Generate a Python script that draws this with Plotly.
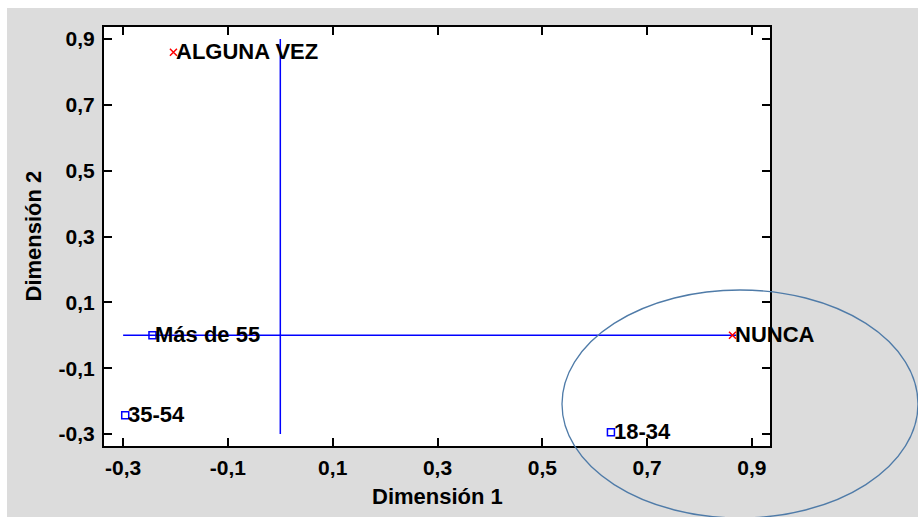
import plotly.graph_objects as go

# Data
resp_labels = ["ALGUNA VEZ", "NUNCA"]
resp_x = [-0.204, 0.863]
resp_y = [0.86, 0.0]

age_labels = ["Más de 55", "35-54", "18-34"]
age_x = [-0.244, -0.296, 0.631]
age_y = [0.0, -0.243, -0.295]

hline_x = [-0.3, 0.87]
hline_y = [0.0, 0.0]
vline_x = [0.0, 0.0]
vline_y = [-0.3, 0.9]

tick_vals = [-0.3, -0.1, 0.1, 0.3, 0.5, 0.7, 0.9]
tick_text = ["-0,3", "-0,1", "0,1", "0,3", "0,5", "0,7", "0,9"]

x_title = "Dimensión 1"
y_title = "Dimensión 2"

W, H = 918, 517
ML, MR, MT, MB = 104, 148, 27, 71
PW, PH = W - ML - MR, H - MT - MB

FONT = "Liberation Sans, Arial"

def px_x(p):
    return (p - ML) / PW

def px_y(p):
    return (H - MB - p) / PH

fig = go.Figure()
fig.add_trace(go.Scatter(x=hline_x, y=hline_y, mode="lines",
                         line=dict(color="#0000ff", width=1.5), hoverinfo="skip"))
fig.add_trace(go.Scatter(x=vline_x, y=vline_y, mode="lines",
                         line=dict(color="#0000ff", width=1.5), hoverinfo="skip"))
fig.add_trace(go.Scatter(x=resp_x, y=resp_y, mode="markers", text=resp_labels, cliponaxis=False,
                         marker=dict(symbol="x-thin", size=7, line=dict(color="red", width=1.5), color="red")))
fig.add_trace(go.Scatter(x=age_x, y=age_y, mode="markers", text=age_labels, cliponaxis=False,
                         marker=dict(symbol="square-open", size=7, line=dict(color="#0000ff", width=1.5), color="#0000ff")))

axis_common = dict(
    showgrid=False, zeroline=False, showline=True, linecolor="black", linewidth=2,
    mirror="ticks", ticks="inside", ticklen=8, tickwidth=2, tickcolor="black",
    tickvals=tick_vals, ticktext=tick_text,
    tickfont=dict(family=FONT, size=21, color="black", weight="bold"),
)

fig.update_xaxes(range=[-0.3365, 0.9346], ticklabelstandoff=2, **axis_common)
fig.update_yaxes(range=[-0.3365, 0.9365], ticklabelstandoff=3, **axis_common)

shapes = [
    # white strips at top and left of the grey panel
    dict(type="rect", xref="paper", yref="paper", x0=px_x(0), x1=px_x(7), y0=px_y(H), y1=px_y(0),
         fillcolor="white", line=dict(width=0), layer="below"),
    dict(type="rect", xref="paper", yref="paper", x0=px_x(0), x1=px_x(W), y0=px_y(8), y1=px_y(0),
         fillcolor="white", line=dict(width=0), layer="below"),
    # ellipse highlight
    dict(type="circle", xref="paper", yref="paper", x0=px_x(562), x1=px_x(918), y0=px_y(518), y1=px_y(290),
         line=dict(color="#4f7ba8", width=1.3), fillcolor="rgba(0,0,0,0)", layer="above"),
]

label_font = dict(family=FONT, size=22, color="black", weight="bold")
annotations = []
for lx, ly, lt in zip(resp_x + age_x, resp_y + age_y, resp_labels + age_labels):
    annotations.append(dict(x=lx, y=ly, xref="x", yref="y", text=lt, showarrow=False,
                            xanchor="left", yanchor="middle", xshift=1, yshift=1, font=label_font))

annotations += [
    dict(text=x_title, xref="paper", yref="paper", x=0.5, y=px_y(496), xanchor="center", yanchor="middle",
         showarrow=False, font=dict(family=FONT, size=22, color="black", weight="bold")),
    dict(text=y_title, xref="paper", yref="paper", x=px_x(33), y=0.5, xanchor="center", yanchor="middle",
         textangle=-90, showarrow=False, font=dict(family=FONT, size=22, color="black", weight="bold")),
]

fig.update_layout(
    width=W, height=H, margin=dict(l=ML, r=MR, t=MT, b=MB),
    paper_bgcolor="#dcdcdc", plot_bgcolor="white",
    showlegend=False, shapes=shapes, annotations=annotations,
)

fig.write_html("out.html")
